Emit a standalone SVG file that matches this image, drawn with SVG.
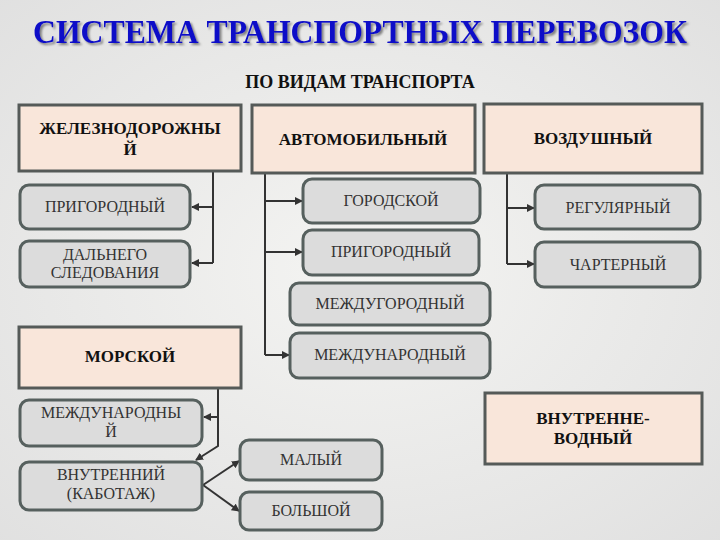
<svg xmlns="http://www.w3.org/2000/svg" width="720" height="540" viewBox="0 0 720 540">
<defs>
<radialGradient id="bg" cx="0.5" cy="0.5" r="0.8"><stop offset="0" stop-color="#f4f4f2"/><stop offset="1" stop-color="#dedede"/></radialGradient>
<filter id="sh" x="-5%" y="-20%" width="110%" height="150%"><feDropShadow dx="2" dy="2" stdDeviation="0.8" flood-color="#666" flood-opacity="0.8"/></filter>
<marker id="ar" markerWidth="8" markerHeight="8" refX="7" refY="4" orient="auto" markerUnits="userSpaceOnUse"><path d="M0,0 L8,4 L0,8 z" fill="#333"/></marker>
<style>
.h{fill:#f9e6da;stroke:#555a58;stroke-width:3}
.b{fill:#dcdcdc;stroke:#56605e;stroke-width:3}
text{font-family:"Times New Roman","Liberation Serif","DejaVu Serif",serif;text-anchor:middle;fill:#222}
.ht{font-weight:bold;font-size:17px;fill:#111}
.bt{font-size:16px;fill:#333}
.c{fill:none;stroke:#333;stroke-width:2}
</style>
</defs>
<rect width="720" height="540" fill="url(#bg)"/>
<text x="360" y="43" textLength="654" lengthAdjust="spacingAndGlyphs" filter="url(#sh)" style="font-size:33px;font-weight:bold;fill:#1010c8">СИСТЕМА ТРАНСПОРТНЫХ ПЕРЕВОЗОК</text>
<text x="360" y="88" style="font-size:18px;font-weight:bold;fill:#111">ПО ВИДАМ ТРАНСПОРТА</text>
<g id="connectors">
<path class="c" d="M213,171 V263"/>
<path class="c" d="M213,207 H192" marker-end="url(#ar)"/>
<path class="c" d="M213,263 H192" marker-end="url(#ar)"/>
<path class="c" d="M265,173 V355"/>
<path class="c" d="M265,201 H302" marker-end="url(#ar)"/>
<path class="c" d="M265,252 H302" marker-end="url(#ar)"/>
<path class="c" d="M265,355 H289" marker-end="url(#ar)"/>
<path class="c" d="M507,173 V264"/>
<path class="c" d="M507,208 H534" marker-end="url(#ar)"/>
<path class="c" d="M507,264 H534" marker-end="url(#ar)"/>
<path class="c" d="M218,388 V446 L196,460" marker-end="url(#ar)"/>
<path class="c" d="M218,417 H204" marker-end="url(#ar)"/>
<path class="c" d="M203,485 L239,461" marker-end="url(#ar)"/>
<path class="c" d="M203,485 L239,511" marker-end="url(#ar)"/>
</g>
<g id="rail"><rect class="h" x="19" y="105" width="222" height="66"/><text class="ht" x="130" y="134">ЖЕЛЕЗНОДОРОЖНЫ</text><text class="ht" x="130" y="155">Й</text></g>
<g id="auto"><rect class="h" x="252" y="105" width="223" height="68"/><text class="ht" x="363" y="145">АВТОМОБИЛЬНЫЙ</text></g>
<g id="air"><rect class="h" x="484" y="104" width="218" height="69"/><text class="ht" x="593" y="144">ВОЗДУШНЫЙ</text></g>
<g id="sea"><rect class="h" x="19" y="327" width="222" height="61"/><text class="ht" x="130" y="362">МОРСКОЙ</text></g>
<g id="inland"><rect class="h" x="485" y="393" width="217" height="71"/><text class="ht" x="593" y="424">ВНУТРЕННЕ-</text><text class="ht" x="593" y="444">ВОДНЫЙ</text></g>
<g id="r1"><rect class="b" x="20" y="185" width="170" height="44" rx="9"/><text class="bt" x="105" y="212">ПРИГОРОДНЫЙ</text></g>
<g id="r2"><rect class="b" x="20" y="241" width="170" height="46" rx="9"/><text class="bt" x="105" y="260">ДАЛЬНЕГО</text><text class="bt" x="105" y="278">СЛЕДОВАНИЯ</text></g>
<g id="a1"><rect class="b" x="303" y="179" width="177" height="44" rx="9"/><text class="bt" x="391" y="206">ГОРОДСКОЙ</text></g>
<g id="a2"><rect class="b" x="303" y="230" width="176" height="45" rx="9"/><text class="bt" x="391" y="257">ПРИГОРОДНЫЙ</text></g>
<g id="a3"><rect class="b" x="290" y="283" width="200" height="42" rx="9"/><text class="bt" x="390" y="309">МЕЖДУГОРОДНЫЙ</text></g>
<g id="a4"><rect class="b" x="290" y="333" width="200" height="45" rx="9"/><text class="bt" x="390" y="360">МЕЖДУНАРОДНЫЙ</text></g>
<g id="v1"><rect class="b" x="535" y="185" width="165" height="44" rx="9"/><text class="bt" x="618" y="213">РЕГУЛЯРНЫЙ</text></g>
<g id="v2"><rect class="b" x="535" y="242" width="165" height="45" rx="9"/><text class="bt" x="618" y="270">ЧАРТЕРНЫЙ</text></g>
<g id="s1"><rect class="b" x="20" y="400" width="182" height="46" rx="9"/><text class="bt" x="111" y="418">МЕЖДУНАРОДНЫ</text><text class="bt" x="111" y="437">Й</text></g>
<g id="s2"><rect class="b" x="20" y="462" width="182" height="48" rx="9"/><text class="bt" x="111" y="480">ВНУТРЕННИЙ</text><text class="bt" x="111" y="499">(КАБОТАЖ)</text></g>
<g id="s3"><rect class="b" x="240" y="440" width="142" height="40" rx="9"/><text class="bt" x="311" y="465">МАЛЫЙ</text></g>
<g id="s4"><rect class="b" x="240" y="492" width="142" height="38" rx="9"/><text class="bt" x="311" y="516">БОЛЬШОЙ</text></g>
</svg>
